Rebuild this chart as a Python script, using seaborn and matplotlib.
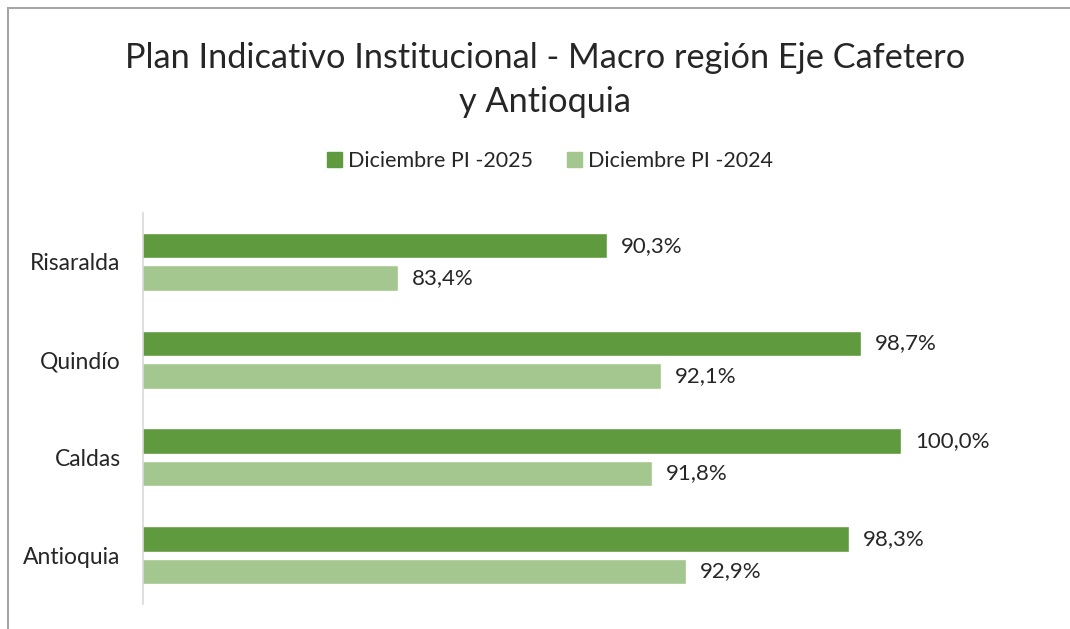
import matplotlib
matplotlib.use('Agg')
import matplotlib.pyplot as plt
import matplotlib.patches as mpatches
import pandas as pd
import seaborn as sns

# datos
regiones = ['Risaralda', 'Quindío', 'Caldas', 'Antioquia']
pi_2025 = [90.3, 98.7, 100.0, 98.3]
pi_2024 = [83.4, 92.1, 91.8, 92.9]
series = ['Diciembre PI -2025', 'Diciembre PI -2024']
colores = ['#5F9A3E', '#A3C78F']

df = pd.DataFrame({
    'region': regiones * 2,
    'valor': pi_2025 + pi_2024,
    'serie': [series[0]] * 4 + [series[1]] * 4,
})

sns.set_theme(style='white')
plt.rcParams['font.family'] = ['Lato', 'DejaVu Sans']

fig = plt.figure(figsize=(10.7, 6.29), dpi=100)
ax = fig.add_axes([0.1336, 0.0397, 0.85, 0.6217])

sns.barplot(data=df, y='region', x='valor', hue='serie', order=regiones,
            hue_order=series, palette=colores, orient='h', width=0.663,
            gap=0.215, saturation=1, ax=ax, legend=False)

ax.set_xlim(75, 105)
ax.set_ylim(3.5, -0.5)
ax.set_xlabel('')
ax.set_ylabel('')
ax.set_xticks([])
ax.tick_params(axis='y', length=0, labelsize=16.5, pad=16)
for s in ['top', 'right', 'bottom']:
    ax.spines[s].set_visible(False)
ax.spines['left'].set_color('#d9d9d9')
ax.spines['left'].set_linewidth(1.2)

for cont in ax.containers:
    etiquetas = [f'{b.get_width():.1f}%'.replace('.', ',') for b in cont]
    ax.bar_label(cont, labels=etiquetas, padding=10, fontsize=16)

fig.text(0.509, 0.873, 'Plan Indicativo Institucional - Macro región Eje Cafetero\ny Antioquia',
         ha='center', va='center', fontsize=24.7, linespacing=1.45)

handles = [mpatches.Patch(color=c, label=l) for c, l in zip(colores, series)]
fig.legend(handles=handles, loc='center', bbox_to_anchor=(0.514, 0.744), ncol=2,
           frameon=False, fontsize=15.5, handlelength=0.7, handleheight=0.7,
           handletextpad=0.25, columnspacing=1.6)

# marco del grafico
marco = mpatches.Rectangle((8 / 1070, -0.1), 1.2, 0.987 + 0.1, transform=fig.transFigure,
                           fill=False, edgecolor='#a6a6a6', linewidth=1.5)
fig.patches.append(marco)

fig.savefig('out.png', dpi=100)
